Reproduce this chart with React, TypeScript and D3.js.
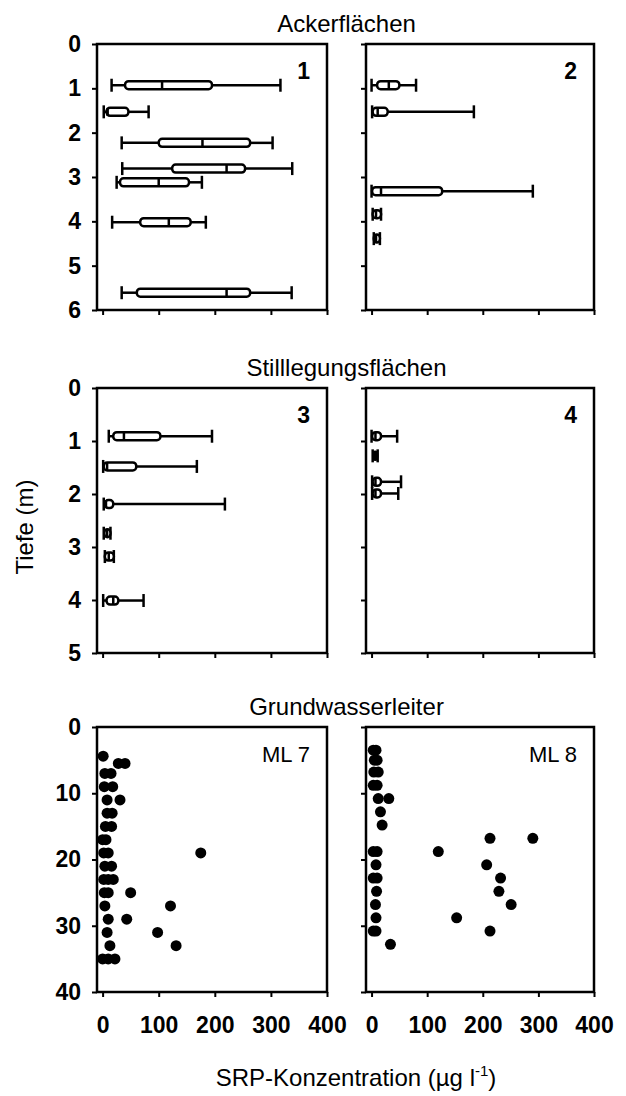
import * as React from "react";
import * as d3 from "d3";

const W = 626;
const H = 1096;
const FONT = "'Liberation Sans', Arial, Helvetica, sans-serif";

// x axis (SRP, µg/l) shared by all panels
const xTicks = [0, 100, 200, 300, 400];

// Ackerflächen, Fläche 1
const p1Depth = [0.93, 1.53, 2.23, 2.81, 3.12, 4.02, 5.61];
const p1Min = [16, 2, 34, 35, 25, 17, 34];
const p1Q1 = [40, 7, 100, 124, 31, 67, 61];
const p1Med = [106, 9, 178, 221, 100, 118, 221];
const p1Q3 = [195, 46, 263, 254, 154, 157, 263];
const p1Max = [317, 82, 303, 338, 177, 184, 337];

// Ackerflächen, Fläche 2
const p2Depth = [0.93, 1.53, 3.32, 3.84, 4.39];
const p2Min = [0, 1, 0, 2, 4];
const p2Q1 = [10, 2, 1, 2, 4];
const p2Med = [31, 11, 17, 8, 8];
const p2Q3 = [50, 29, 127, 17, 15];
const p2Max = [80, 184, 290, 17, 15];

// Stilllegungsflächen, Fläche 3
const p3Depth = [0.91, 1.48, 2.19, 2.74, 3.18, 4.01];
const p3Min = [11, 1, 2, 2, 4, 1];
const p3Q1 = [19, 2, 4, 3, 4, 7];
const p3Med = [38, 8, 6, 8, 11, 19];
const p3Q3 = [103, 60, 19, 14, 20, 28];
const p3Max = [195, 168, 218, 14, 20, 73];

// Stilllegungsflächen, Fläche 4
const p4Depth = [0.91, 1.28, 1.77, 1.99];
const p4Min = [0, 2, 1, 1];
const p4Q1 = [1, 3, 2, 2];
const p4Med = [7, 6, 7, 7];
const p4Q3 = [17, 10, 17, 17];
const p4Max = [46, 11, 53, 48];

// Grundwasserleiter ML 7 (depth m, SRP)
const ml7Depth = [4.4, 5.5, 5.5, 7, 7, 9, 9, 11, 11, 13, 13, 15, 15, 17, 17, 19, 19, 19, 21, 21,
  23, 23, 23, 25, 25, 25, 27, 27, 29, 29, 31, 31, 33, 33, 35, 35, 35];
const ml7Value = [1, 28, 40, 4, 15, 3, 18, 8, 31, 17, 8, 16, 5, 0, 6, 10, 2, 175, 16, 4,
  19, 2, 10, 10, 3, 50, 4, 121, 10, 43, 8, 98, 13, 131, 0, 10, 22];

// Grundwasserleiter ML 8
const ml8Depth = [3.5, 3.5, 5, 5, 6.8, 6.8, 8.8, 8.8, 10.8, 10.8, 12.8, 14.8, 16.8, 16.8, 18.8, 18.8, 18.8,
  20.8, 20.8, 22.8, 22.8, 22.8, 24.8, 24.8, 26.8, 26.8, 28.8, 28.8, 30.8, 30.8, 30.8, 32.8];
const ml8Value = [3, 8, 5, 10, 4, 12, 3, 10, 12, 31, 16, 19, 213, 290, 10, 3, 120,
  8, 207, 10, 3, 232, 9, 229, 7, 251, 8, 153, 8, 3, 213, 34];

const colX: [number, number][] = [[97, 327], [366, 594]];
const rowY: [number, number][] = [[44, 310], [388, 653], [727, 992]];
const rowTitles = ["Ackerflächen", "Stilllegungsflächen", "Grundwasserleiter"];

function boxes(depth: number[], min: number[], q1: number[], med: number[], q3: number[], max: number[]) {
  return depth.map((d, i) => ({ depth: d, min: min[i], q1: q1[i], med: med[i], q3: q3[i], max: max[i] }));
}

function points(depth: number[], value: number[]) {
  return depth.map((d, i) => ({ depth: d, value: value[i] }));
}

const panels = [
  { col: 0, row: 0, yMax: 6, yTicks: [0, 1, 2, 3, 4, 5, 6], label: "1", bold: true, box: boxes(p1Depth, p1Min, p1Q1, p1Med, p1Q3, p1Max) },
  { col: 1, row: 0, yMax: 6, yTicks: [0, 1, 2, 3, 4, 5, 6], label: "2", bold: true, box: boxes(p2Depth, p2Min, p2Q1, p2Med, p2Q3, p2Max) },
  { col: 0, row: 1, yMax: 5, yTicks: [0, 1, 2, 3, 4, 5], label: "3", bold: true, box: boxes(p3Depth, p3Min, p3Q1, p3Med, p3Q3, p3Max) },
  { col: 1, row: 1, yMax: 5, yTicks: [0, 1, 2, 3, 4, 5], label: "4", bold: true, box: boxes(p4Depth, p4Min, p4Q1, p4Med, p4Q3, p4Max) },
  { col: 0, row: 2, yMax: 40, yTicks: [0, 10, 20, 30, 40], label: "ML 7", bold: false, dots: points(ml7Depth, ml7Value) },
  { col: 1, row: 2, yMax: 40, yTicks: [0, 10, 20, 30, 40], label: "ML 8", bold: false, dots: points(ml8Depth, ml8Value) },
];

function drawChart(el: SVGSVGElement) {
  const svg = d3.select(el);
  svg.selectAll("*").remove();
  svg.append("rect").attr("width", W).attr("height", H).attr("fill", "#fff");

  panels.forEach((p: any) => {
    const [x0, x1] = colX[p.col];
    const [y0, y1] = rowY[p.row];
    const x = d3.scaleLinear().domain([-10, 400]).range([x0, x1]);
    const y = d3.scaleLinear().domain([0, p.yMax]).range([y0, y1]);
    const g = svg.append("g");

    // left axis
    const ya = g.append("g")
      .attr("transform", "translate(" + x0 + ",0)")
      .call(d3.axisLeft(y).tickValues(p.yTicks).tickSize(5).tickPadding(11)
        .tickFormat((d: any) => (p.col === 0 ? String(d) : "")));
    ya.select(".domain").remove();
    ya.selectAll("line").attr("stroke", "#000").attr("stroke-width", 2);
    ya.selectAll("text").attr("font-family", FONT).attr("font-size", 23).attr("font-weight", "bold").attr("fill", "#000");

    // bottom axis
    const xa = g.append("g")
      .attr("transform", "translate(0," + y1 + ")")
      .call(d3.axisBottom(x).tickValues(xTicks).tickSize(5).tickPadding(20)
        .tickFormat((d: any) => (p.row === 2 ? String(d) : "")));
    xa.select(".domain").remove();
    xa.selectAll("line").attr("stroke", "#000").attr("stroke-width", 2);
    xa.selectAll("text").attr("font-family", FONT).attr("font-size", 23).attr("font-weight", "bold").attr("fill", "#000");

    // frame
    g.append("rect")
      .attr("x", x0).attr("y", y0).attr("width", x1 - x0).attr("height", y1 - y0)
      .attr("fill", "none").attr("stroke", "#000").attr("stroke-width", 2.5);

    if (p.box) {
      const bh = 8;
      const ch = 13;
      const bx = g.selectAll(".bx").data(p.box).enter().append("g");
      bx.append("line")
        .attr("x1", (d: any) => x(d.min)).attr("x2", (d: any) => x(d.q1))
        .attr("y1", (d: any) => y(d.depth)).attr("y2", (d: any) => y(d.depth));
      bx.append("line")
        .attr("x1", (d: any) => x(d.q3)).attr("x2", (d: any) => x(d.max))
        .attr("y1", (d: any) => y(d.depth)).attr("y2", (d: any) => y(d.depth));
      bx.append("line")
        .attr("x1", (d: any) => x(d.min)).attr("x2", (d: any) => x(d.min))
        .attr("y1", (d: any) => y(d.depth) - ch / 2).attr("y2", (d: any) => y(d.depth) + ch / 2);
      bx.append("line")
        .attr("x1", (d: any) => x(d.max)).attr("x2", (d: any) => x(d.max))
        .attr("y1", (d: any) => y(d.depth) - ch / 2).attr("y2", (d: any) => y(d.depth) + ch / 2);
      bx.append("rect")
        .attr("x", (d: any) => x(d.q1)).attr("y", (d: any) => y(d.depth) - bh / 2)
        .attr("width", (d: any) => Math.max(2, x(d.q3) - x(d.q1))).attr("height", bh)
        .attr("rx", 3.5).attr("fill", "#fff");
      bx.append("line")
        .attr("x1", (d: any) => x(d.med)).attr("x2", (d: any) => x(d.med))
        .attr("y1", (d: any) => y(d.depth) - bh / 2).attr("y2", (d: any) => y(d.depth) + bh / 2);
      bx.selectAll("line,rect").attr("stroke", "#000").attr("stroke-width", 2.5);
    }

    if (p.dots) {
      g.selectAll(".dot").data(p.dots).enter().append("circle")
        .attr("cx", (d: any) => x(d.value)).attr("cy", (d: any) => y(d.depth))
        .attr("r", 5.5).attr("fill", "#000");
    }

    g.append("text")
      .attr("x", x1 - 17).attr("y", y0 + 35)
      .attr("text-anchor", "end")
      .attr("font-family", FONT).attr("font-size", p.bold ? 23 : 22)
      .attr("font-weight", p.bold ? "bold" : "normal")
      .text(p.label);
  });

  const cx = (colX[0][1] + colX[1][0]) / 2;
  rowTitles.forEach((t, i) => {
    svg.append("text")
      .attr("x", cx).attr("y", rowY[i][0] - 12)
      .attr("text-anchor", "middle")
      .attr("font-family", FONT).attr("font-size", 24)
      .text(t);
  });

  svg.append("text")
    .attr("transform", "translate(33,527) rotate(-90)")
    .attr("text-anchor", "middle")
    .attr("font-family", FONT).attr("font-size", 24)
    .text("Tiefe (m)");

  const xl = svg.append("text")
    .attr("x", 356).attr("y", 1086)
    .attr("text-anchor", "middle")
    .attr("font-family", FONT).attr("font-size", 24);
  xl.append("tspan").text("SRP-Konzentration (µg l");
  xl.append("tspan").attr("font-size", 15).attr("dy", -10).text("-1");
  xl.append("tspan").attr("dy", 10).text(")");
}

export default function App() {
  const ref = React.useRef<SVGSVGElement>(null);
  React.useEffect(() => {
    if (ref.current) drawChart(ref.current);
  }, []);
  return (
    <svg ref={ref} width={W} height={H}
      style={{ position: "absolute", left: 0, top: 0, display: "block" }} />
  );
}
